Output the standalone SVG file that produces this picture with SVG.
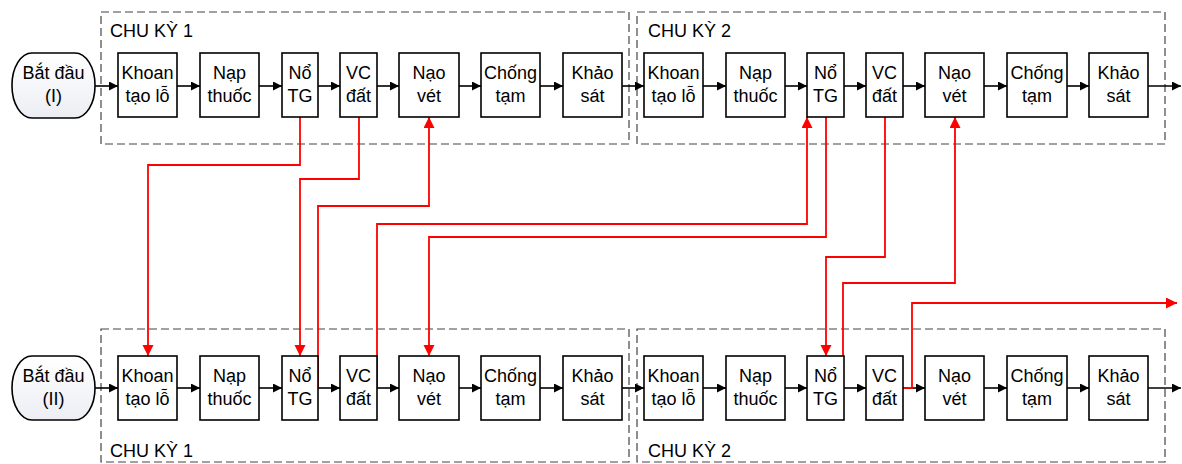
<svg xmlns="http://www.w3.org/2000/svg" width="1182" height="464" viewBox="0 0 1182 464">
<defs>
<style>
.box{fill:#fff;stroke:#000;stroke-width:1.6}
.pill{fill:url(#pg);stroke:#000;stroke-width:1.6}
.t{font-family:"Liberation Sans",Arial,sans-serif;font-size:18px;fill:#000;text-anchor:middle}
.lbl{font-family:"Liberation Sans",Arial,sans-serif;font-size:18px;fill:#000}
.cyc{fill:none;stroke:#444;stroke-width:1.2;stroke-dasharray:8,4}
.ba{fill:none;stroke:#000;stroke-width:1.6;marker-end:url(#ab)}
.ra{fill:none;stroke:#ff0000;stroke-width:1.8}
.rae{marker-end:url(#ar)}
</style>
<linearGradient id="pg" x1="0" y1="0" x2="0" y2="1">
<stop offset="0" stop-color="#ffffff"/>
<stop offset="1" stop-color="#eceef4"/>
</linearGradient>
<marker id="ab" markerUnits="userSpaceOnUse" markerWidth="10" markerHeight="10" refX="9" refY="4.5" orient="auto">
<path d="M0,0 L9,4.5 L0,9 z" fill="#000"/>
</marker>
<marker id="ar" markerUnits="userSpaceOnUse" markerWidth="12" markerHeight="12" refX="11" refY="5.5" orient="auto">
<path d="M0,0 L11,5.5 L0,11 z" fill="#ff0000"/>
</marker>
</defs>
<rect width="1182" height="464" fill="#fff"/>

<g id="cycles">
<rect class="cyc" x="101" y="12" width="528" height="132"/>
<rect class="cyc" x="637" y="12" width="528" height="132"/>
<rect class="cyc" x="101" y="329" width="528" height="133"/>
<rect class="cyc" x="637" y="329" width="528" height="133"/>
<text class="lbl" x="110" y="37">CHU KỲ 1</text>
<text class="lbl" x="648" y="37">CHU KỲ 2</text>
<text class="lbl" x="110" y="457">CHU KỲ 1</text>
<text class="lbl" x="648" y="457">CHU KỲ 2</text>
</g>

<g id="connectors">
<path class="ba" d="M95,86 H118"/>
<path class="ba" d="M177,86 H200"/>
<path class="ba" d="M259,86 H282"/>
<path class="ba" d="M318,86 H340"/>
<path class="ba" d="M377,86 H399"/>
<path class="ba" d="M459,86 H481"/>
<path class="ba" d="M540,86 H563"/>
<path class="ba" d="M622,86 H644"/>
<path class="ba" d="M703,86 H726"/>
<path class="ba" d="M785,86 H807"/>
<path class="ba" d="M844,86 H866"/>
<path class="ba" d="M903,86 H925"/>
<path class="ba" d="M984,86 H1007"/>
<path class="ba" d="M1067,86 H1089"/>
<path class="ba" d="M1148,86 H1181"/>

<path class="ba" d="M95,388 H118"/>
<path class="ba" d="M177,388 H200"/>
<path class="ba" d="M259,388 H282"/>
<path class="ba" d="M318,388 H340"/>
<path class="ba" d="M377,388 H399"/>
<path class="ba" d="M459,388 H481"/>
<path class="ba" d="M540,388 H563"/>
<path class="ba" d="M622,388 H644"/>
<path class="ba" d="M703,388 H726"/>
<path class="ba" d="M785,388 H807"/>
<path class="ba" d="M844,388 H866"/>
<path class="ba" d="M903,388 H925"/>
<path class="ba" d="M984,388 H1007"/>
<path class="ba" d="M1067,388 H1089"/>
<path class="ba" d="M1148,388 H1181"/>

<path class="ra rae" d="M300,117 V165 H148 V356"/>
<path class="ra rae" d="M359,117 V179 H300 V356"/>
<path class="ra rae" d="M318,388 V206 H429 V117"/>
<path class="ra rae" d="M377,388 V224 H807 V117"/>
<path class="ra rae" d="M826,117 V237 H429 V356"/>
<path class="ra rae" d="M885,117 V257 H826 V356"/>
<path class="ra rae" d="M843,388 V283 H955 V117"/>
<path class="ra rae" d="M903,388 H912 V303 H1177"/>
</g>

<g id="start1">
<rect class="pill" x="12" y="53" width="83" height="65" rx="20" ry="32"/>
<text class="t" x="53.5" y="79">Bắt đầu</text>
<text class="t" x="53.5" y="102">(I)</text>
</g>
<g id="start2">
<rect class="pill" x="12" y="356" width="83" height="64" rx="20" ry="32"/>
<text class="t" x="53.5" y="382">Bắt đầu</text>
<text class="t" x="53.5" y="405">(II)</text>
</g>

<g id="t1-khoan"><rect class="box" x="118" y="53" width="59" height="64"/><text class="t" x="147.5" y="79">Khoan</text><text class="t" x="147.5" y="102">tạo lỗ</text></g>
<g id="t1-nap"><rect class="box" x="200" y="53" width="59" height="64"/><text class="t" x="229.5" y="79">Nạp</text><text class="t" x="229.5" y="102">thuốc</text></g>
<g id="t1-no"><rect class="box" x="282" y="53" width="36" height="64"/><text class="t" x="300" y="79">Nổ</text><text class="t" x="300" y="102">TG</text></g>
<g id="t1-vc"><rect class="box" x="340" y="53" width="37" height="64"/><text class="t" x="358.5" y="79">VC</text><text class="t" x="358.5" y="102">đất</text></g>
<g id="t1-nao"><rect class="box" x="399" y="53" width="60" height="64"/><text class="t" x="429" y="79">Nạo</text><text class="t" x="429" y="102">vét</text></g>
<g id="t1-chong"><rect class="box" x="481" y="53" width="59" height="64"/><text class="t" x="510.5" y="79">Chống</text><text class="t" x="510.5" y="102">tạm</text></g>
<g id="t1-khao"><rect class="box" x="563" y="53" width="59" height="64"/><text class="t" x="592.5" y="79">Khảo</text><text class="t" x="592.5" y="102">sát</text></g>

<g id="t2-khoan"><rect class="box" x="644" y="53" width="59" height="64"/><text class="t" x="673.5" y="79">Khoan</text><text class="t" x="673.5" y="102">tạo lỗ</text></g>
<g id="t2-nap"><rect class="box" x="726" y="53" width="59" height="64"/><text class="t" x="755.5" y="79">Nạp</text><text class="t" x="755.5" y="102">thuốc</text></g>
<g id="t2-no"><rect class="box" x="807" y="53" width="37" height="64"/><text class="t" x="825.5" y="79">Nổ</text><text class="t" x="825.5" y="102">TG</text></g>
<g id="t2-vc"><rect class="box" x="866" y="53" width="37" height="64"/><text class="t" x="884.5" y="79">VC</text><text class="t" x="884.5" y="102">đất</text></g>
<g id="t2-nao"><rect class="box" x="925" y="53" width="59" height="64"/><text class="t" x="954.5" y="79">Nạo</text><text class="t" x="954.5" y="102">vét</text></g>
<g id="t2-chong"><rect class="box" x="1007" y="53" width="60" height="64"/><text class="t" x="1037" y="79">Chống</text><text class="t" x="1037" y="102">tạm</text></g>
<g id="t2-khao"><rect class="box" x="1089" y="53" width="59" height="64"/><text class="t" x="1118.5" y="79">Khảo</text><text class="t" x="1118.5" y="102">sát</text></g>

<g id="b1-khoan"><rect class="box" x="118" y="356" width="59" height="64"/><text class="t" x="147.5" y="382">Khoan</text><text class="t" x="147.5" y="405">tạo lỗ</text></g>
<g id="b1-nap"><rect class="box" x="200" y="356" width="59" height="64"/><text class="t" x="229.5" y="382">Nạp</text><text class="t" x="229.5" y="405">thuốc</text></g>
<g id="b1-no"><rect class="box" x="282" y="356" width="36" height="64"/><text class="t" x="300" y="382">Nổ</text><text class="t" x="300" y="405">TG</text></g>
<g id="b1-vc"><rect class="box" x="340" y="356" width="37" height="64"/><text class="t" x="358.5" y="382">VC</text><text class="t" x="358.5" y="405">đất</text></g>
<g id="b1-nao"><rect class="box" x="399" y="356" width="60" height="64"/><text class="t" x="429" y="382">Nạo</text><text class="t" x="429" y="405">vét</text></g>
<g id="b1-chong"><rect class="box" x="481" y="356" width="59" height="64"/><text class="t" x="510.5" y="382">Chống</text><text class="t" x="510.5" y="405">tạm</text></g>
<g id="b1-khao"><rect class="box" x="563" y="356" width="59" height="64"/><text class="t" x="592.5" y="382">Khảo</text><text class="t" x="592.5" y="405">sát</text></g>

<g id="b2-khoan"><rect class="box" x="644" y="356" width="59" height="64"/><text class="t" x="673.5" y="382">Khoan</text><text class="t" x="673.5" y="405">tạo lỗ</text></g>
<g id="b2-nap"><rect class="box" x="726" y="356" width="59" height="64"/><text class="t" x="755.5" y="382">Nạp</text><text class="t" x="755.5" y="405">thuốc</text></g>
<g id="b2-no"><rect class="box" x="807" y="356" width="37" height="64"/><text class="t" x="825.5" y="382">Nổ</text><text class="t" x="825.5" y="405">TG</text></g>
<g id="b2-vc"><rect class="box" x="866" y="356" width="37" height="64"/><text class="t" x="884.5" y="382">VC</text><text class="t" x="884.5" y="405">đất</text></g>
<g id="b2-nao"><rect class="box" x="925" y="356" width="59" height="64"/><text class="t" x="954.5" y="382">Nạo</text><text class="t" x="954.5" y="405">vét</text></g>
<g id="b2-chong"><rect class="box" x="1007" y="356" width="60" height="64"/><text class="t" x="1037" y="382">Chống</text><text class="t" x="1037" y="405">tạm</text></g>
<g id="b2-khao"><rect class="box" x="1089" y="356" width="59" height="64"/><text class="t" x="1118.5" y="382">Khảo</text><text class="t" x="1118.5" y="405">sát</text></g>
</svg>
